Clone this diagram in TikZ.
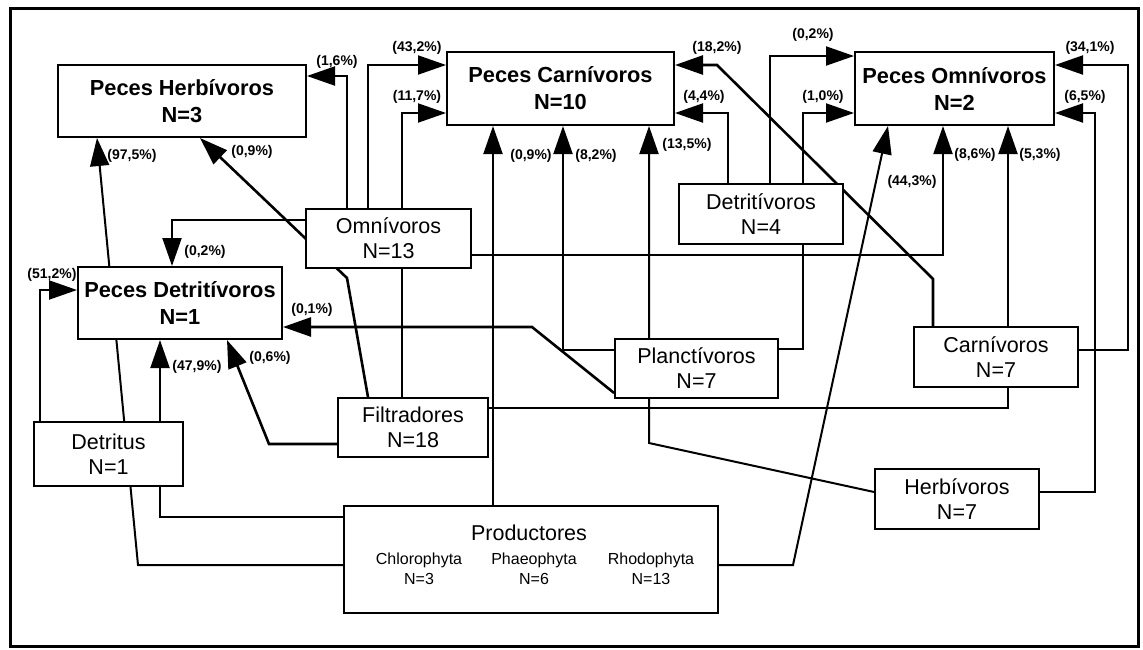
\documentclass[tikz,border=0pt]{standalone}
\usepackage{fontspec}
\setmainfont{Liberation Sans}
\usetikzlibrary{arrows.meta,backgrounds}
\begin{document}
\begin{tikzpicture}[x=1pt,y=-1pt,
  pbox/.style={draw,line width=2pt,fill=white,inner sep=0pt,align=center,
    font=\bfseries\fontsize{21.8}{27}\selectfont},
  sbox/.style={draw,line width=1.8pt,fill=white,inner sep=0pt,align=center,
    font=\fontsize{21.5}{25}\selectfont},
  lab/.style={inner sep=0pt,font=\bfseries\fontsize{14}{16}\selectfont},
  sub/.style={inner sep=0pt,align=center,font=\fontsize{16}{20}\selectfont},
  conn/.style={line width=2pt,line join=miter},
  heavy/.style={line width=2.6pt},
  arr/.style={conn,-{Triangle[length=28pt,width=19pt]}}]
\useasboundingbox (0,0) rectangle (1143,649);

% main boxes
\node[pbox,minimum width=248pt,minimum height=72pt] (PH) at (182,101) {Peces Herbívoros\\N=3};
\node[pbox,minimum width=227pt,minimum height=73pt] (PC) at (560.5,88.5) {Peces Carnívoros\\N=10};
\node[pbox,minimum width=199pt,minimum height=73pt] (PO) at (954.5,88.5) {Peces Omnívoros\\N=2};
\node[pbox,minimum width=204pt,minimum height=72pt] (PD) at (180,303) {Peces Detritívoros\\N=1};
\node[sbox,minimum width=165pt,minimum height=59pt] (Om) at (388.5,238.5) {Omnívoros\\N=13};
\node[sbox,minimum width=150pt,minimum height=59pt] (Fi) at (413,427.5) {Filtradores\\N=18};
\node[sbox,minimum width=164pt,minimum height=60pt] (De) at (761,214) {Detritívoros\\N=4};
\node[sbox,minimum width=163pt,minimum height=59pt] (Pl) at (696.5,368.5) {Planctívoros\\N=7};
\node[sbox,minimum width=164pt,minimum height=60pt] (Ca) at (996,357) {Carnívoros\\N=7};
\node[sbox,minimum width=149pt,minimum height=64pt] (Dt) at (108.5,454) {Detritus\\N=1};
\node[sbox,minimum width=164pt,minimum height=60pt] (He) at (957,499) {Herbívoros\\N=7};
\node[sbox,minimum width=374pt,minimum height=107pt] (Pr) at (531,559.5) {};
\node[inner sep=0pt,font=\fontsize{21.5}{25}\selectfont] (PrT) at (529,533) {Productores};
\node[sub] (Ch) at (419,569) {Chlorophyta\\N=3};
\node[sub] (Ph) at (534,569) {Phaeophyta\\N=6};
\node[sub] (Rh) at (651,569) {Rhodophyta\\N=13};

% connectors
\begin{scope}[on background layer]
\draw[arr] (Pr.west |- 0,565) -- (138,565) -- (PH.south -| 97,0);
\draw[arr] (Pr.west |- 0,517) -- (160,517) -- (PD.south -| 160,0);
\draw[arr] (Dt.north -| 40,0) -- (40,290) -- (PD.west |- 0,290);
\draw[arr,heavy] (Fi.north -| 368,0) -- (347,278) -- (PH.south -| 200,0);
\draw[arr] (Om.north -| 347,0) -- (347,76) -- (PH.east |- 0,76);
\draw[arr] (Om.north -| 368,0) -- (368,65) -- (PC.west |- 0,65);
\draw[arr] (Fi.north -| 402,0) -- (402,113) -- (PC.west |- 0,113);
\draw[arr] (Om.west |- 0,220) -- (172,220) -- (PD.north -| 172,0);
\draw[arr,heavy] (Pl.west |- 0,393) -- (532,327) -- (PD.east |- 0,327);
\draw[arr,heavy] (Fi.west |- 0,444) -- (269,444) -- (PD.south -| 227,0);
\draw[arr,heavy] (Ca.north -| 933,0) -- (933,279) -- (717,65) -- (PC.east |- 0,65);
\draw[arr] (De.north -| 728,0) -- (728,113) -- (PC.east |- 0,113);
\draw[arr] (Pr.north -| 493,0) -- (PC.south -| 493,0);
\draw[arr] (Pl.west |- 0,350) -- (563,350) -- (PC.south -| 563,0);
\draw[arr] (He.west |- 0,492) -- (649,443) -- (PC.south -| 649,0);
\draw[arr] (Om.east |- 0,255) -- (943,255) -- (PO.south -| 943,0);
\draw[arr] (Fi.east |- 0,408) -- (1008,408) -- (PO.south -| 1008,0);
\draw[arr] (Pr.east |- 0,565) -- (793,565) -- (PO.south -| 888,0);
\draw[arr] (De.north -| 770,0) -- (770,56) -- (PO.west |- 0,56);
\draw[arr] (Pl.east |- 0,349) -- (803,349) -- (803,113) -- (PO.west |- 0,113);
\draw[arr] (Ca.east |- 0,350) -- (1128,350) -- (1128,65) -- (PO.east |- 0,65);
\draw[arr] (He.east |- 0,492) -- (1095,492) -- (1095,113) -- (PO.east |- 0,113);
\end{scope}

% labels
\node[lab] (l1) at (132,156) {(97,5\%)};
\node[lab] (l2) at (252,152) {(0,9\%)};
\node[lab] (l3) at (337,62) {(1,6\%)};
\node[lab] (l4) at (417,48) {(43,2\%)};
\node[lab] (l5) at (417,97) {(11,7\%)};
\node[lab] (l6) at (205,252) {(0,2\%)};
\node[lab] (l7) at (52,275) {(51,2\%)};
\node[lab] (l8) at (312,310) {(0,1\%)};
\node[lab] (l9) at (197,367) {(47,9\%)};
\node[lab] (l10) at (270,358) {(0,6\%)};
\node[lab] (l11) at (717,48) {(18,2\%)};
\node[lab] (l12) at (704,97) {(4,4\%)};
\node[lab] (l13) at (531,156) {(0,9\%)};
\node[lab] (l14) at (596,156) {(8,2\%)};
\node[lab] (l15) at (687,145) {(13,5\%)};
\node[lab] (l16) at (813,35) {(0,2\%)};
\node[lab] (l17) at (823,97) {(1,0\%)};
\node[lab] (l18) at (1090,48) {(34,1\%)};
\node[lab] (l19) at (1085,97) {(6,5\%)};
\node[lab] (l20) at (912,182) {(44,3\%)};
\node[lab] (l21) at (975,155) {(8,6\%)};
\node[lab] (l22) at (1040,155) {(5,3\%)};

% frame
\draw[line width=3pt] (10,8) rectangle (1138,646);
\end{tikzpicture}
\end{document}
